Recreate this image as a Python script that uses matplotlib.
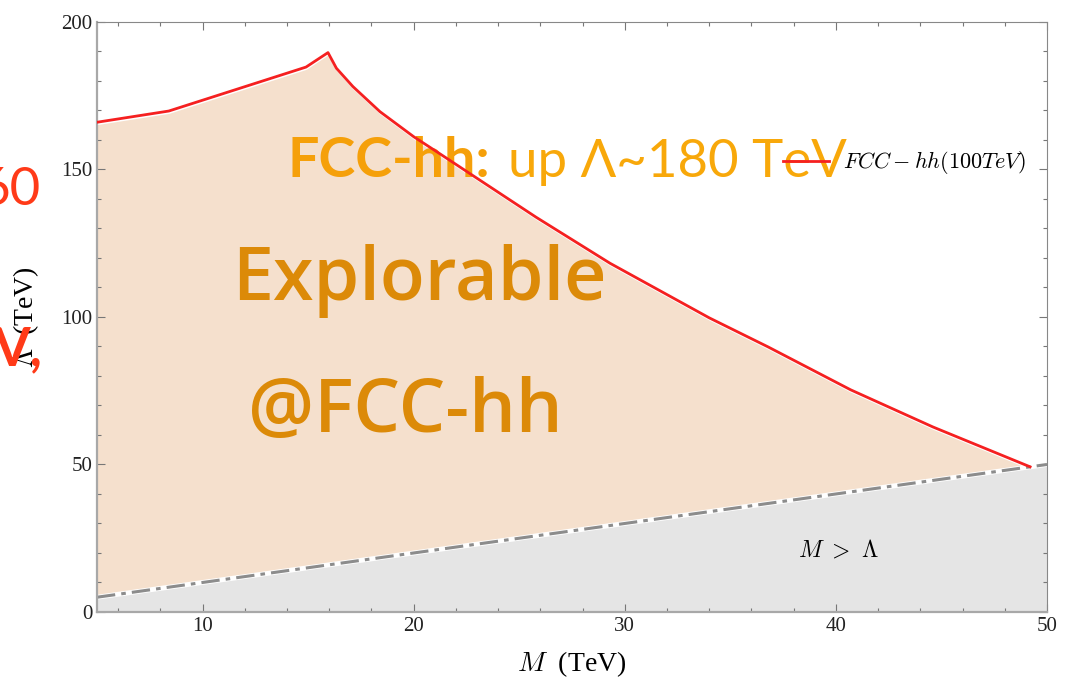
import numpy as np
import matplotlib
matplotlib.use("Agg")
from matplotlib import pyplot as plt
from matplotlib.ticker import MultipleLocator

# FCC-hh (100 TeV) reach curve
M_reach = [5.0, 8.4, 14.9, 15.94, 16.34, 17.12, 18.4, 20.0, 21.2, 23.0, 25.8, 29.3, 34.0, 36.8, 40.7, 44.6, 49.2]
L_reach = [166.0, 169.8, 184.7, 189.6, 184.3, 178.1, 169.6, 161.1, 155.5, 147.0, 133.8, 118.2, 99.7, 89.8, 75.3, 62.7, 49.2]

# M > Lambda boundary
M_diag = [5.0, 50.0]
L_diag = [5.0, 50.0]

x_ticks = [10, 20, 30, 40, 50]
y_ticks = [0, 50, 100, 150, 200]

plt.rcParams['mathtext.fontset'] = 'cm'

fig = plt.figure(figsize=(10.71, 6.79), dpi=100)
ax = fig.add_axes([0.0906, 0.0987, 0.887, 0.869])

# fills
M_fill = np.array(M_reach)
ax.fill_between(M_fill, M_fill, np.array(L_reach) - 0.8, color='#f5e0cd', lw=0, zorder=1)
ax.fill_between(M_diag, [0, 0], L_diag, color='#e5e5e5', lw=0, zorder=1)

ax.plot(M_reach, L_reach, color='#f52020', lw=2, zorder=3, label=r'$FCC-hh(100TeV)$')
ax.plot(M_diag, L_diag, color='white', lw=3.5, zorder=2)
ax.plot(M_diag, L_diag, color='#8c8c8c', lw=2.2, ls=(0, (6, 2, 1.5, 2)), zorder=2)

ax.set_xlim(5, 50)
ax.set_ylim(0, 200)
ax.set_xticks(x_ticks)
ax.set_yticks(y_ticks)
ax.xaxis.set_minor_locator(MultipleLocator(2))
ax.yaxis.set_minor_locator(MultipleLocator(10))
ax.tick_params(which='both', direction='in', top=True, right=True, labelright=False,
               labeltop=False, color='#777777', width=0.8)
ax.tick_params(which='major', length=6)
ax.tick_params(which='minor', length=3)
for lab in ax.get_xticklabels() + ax.get_yticklabels():
    lab.set_fontfamily('Liberation Serif')
    lab.set_fontsize(15)
    lab.set_color('#222222')
for s in ['left', 'bottom']:
    ax.spines[s].set_color('#a8a8a8')
    ax.spines[s].set_linewidth(1.6)
for s in ['top', 'right']:
    ax.spines[s].set_color('#888888')
    ax.spines[s].set_linewidth(0.8)

ax.set_xlabel(r'$M$  (TeV)', fontfamily='Liberation Serif', fontsize=20, labelpad=10)
ax.set_ylabel(r'$\Lambda$  (TeV)', fontfamily='Liberation Serif', fontsize=20, labelpad=14)

ax.text(38.2, 21, r'$M\ >\ \Lambda$', fontsize=17, ha='left', va='center', zorder=4)

leg = ax.legend(loc='upper right', bbox_to_anchor=(0.999, 0.818), frameon=False,
                fontsize=16, handlelength=2.1, handletextpad=0.6)
leg.set_zorder(6)

# slide overlay texts (under the curve and legend, as in the slide)
ft = fig.transFigure
ax.text(287 / 1071, 1 - 177 / 679, 'FCC-hh:', transform=ft, fontfamily='Lato', fontweight='bold',
        fontsize=40, color='#f5a00a', ha='left', va='baseline', zorder=2.5, clip_on=False)
ax.text(508 / 1071, 1 - 177 / 679, 'up Λ~180 TeV', transform=ft, fontfamily='Lato',
        fontsize=38, color='#f8a80a', ha='left', va='baseline', zorder=2.5, clip_on=False)
ax.text(232 / 1071, 1 - 300 / 679, 'Explorable', transform=ft, fontfamily='Open Sans',
        fontweight='semibold', fontsize=53, color='#dc8a08', ha='left', va='baseline',
        zorder=2.5, clip_on=False)
ax.text(248 / 1071, 1 - 432 / 679, '@FCC-hh', transform=ft, fontfamily='Open Sans',
        fontweight='semibold', fontsize=53, color='#dc8a08', ha='left', va='baseline',
        zorder=2.5, clip_on=False)

# cut-off slide text at the left edge
fig.text(40 / 1071, 1 - 205 / 679, '60', fontfamily='Lato', fontweight='normal',
         fontsize=38, color='#ff3a18', ha='right', va='baseline', zorder=5)
fig.text(42 / 1071, 1 - 365 / 679, 'V,', fontfamily='Lato', fontweight='bold',
         fontsize=38, color='#ff3a18', ha='right', va='baseline', zorder=5)

fig.savefig('out.png', dpi=100)
